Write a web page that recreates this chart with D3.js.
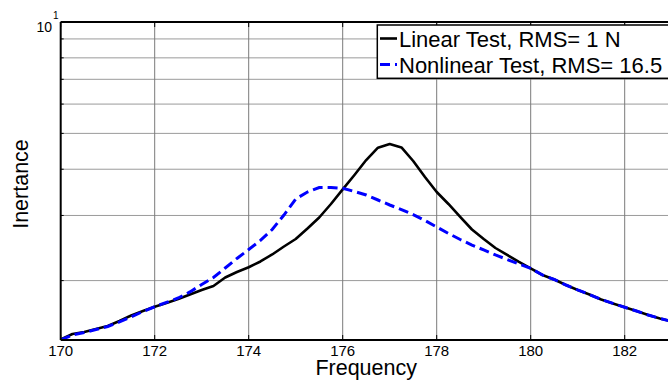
<!DOCTYPE html>
<html>
<head>
<meta charset="utf-8">
<script src="https://cdn.jsdelivr.net/npm/d3@7"></script>
<style>
  body { margin: 0; background: #fff; }
  svg { display: block; }
  text { font-family: "Liberation Sans", Arial, sans-serif; fill: #000; }
</style>
</head>
<body>
<svg id="chart" width="668" height="385"></svg>
<script>
// Frequency samples (Hz)
const frequency = [
  170, 170.25, 170.5, 170.75, 171, 171.25, 171.5, 171.75,
  172, 172.25, 172.5, 172.75, 173, 173.25, 173.5, 173.75,
  174, 174.25, 174.5, 174.75, 175, 175.25, 175.5, 175.75,
  176, 176.25, 176.5, 176.75, 177, 177.25, 177.5, 177.75,
  178, 178.25, 178.5, 178.75, 179, 179.25, 179.5, 179.75,
  180, 180.25, 180.5, 180.75, 181, 181.25, 181.5, 181.75,
  182, 182.25, 182.5, 182.75, 183
];

// Inertance magnitude, linear test (RMS = 1 N)
const linearTest = [
  1.387, 1.435, 1.453, 1.480, 1.508, 1.556, 1.610, 1.655,
  1.700, 1.740, 1.784, 1.834, 1.887, 1.934, 2.039, 2.110,
  2.173, 2.253, 2.353, 2.473, 2.591, 2.766, 2.962, 3.222,
  3.530, 3.860, 4.236, 4.575, 4.681, 4.581, 4.210, 3.812,
  3.471, 3.222, 2.972, 2.749, 2.591, 2.450, 2.346, 2.246,
  2.157, 2.071, 2.014, 1.946, 1.887, 1.834, 1.778, 1.735,
  1.694, 1.655, 1.615, 1.580, 1.551
];

// Inertance magnitude, nonlinear test (RMS = 16.5 N)
const nonlinearTest = [
  1.382, 1.426, 1.448, 1.475, 1.503, 1.546, 1.595, 1.650,
  1.700, 1.746, 1.795, 1.864, 1.952, 2.039, 2.163, 2.296,
  2.427, 2.568, 2.749, 3.008, 3.324, 3.471, 3.570, 3.570,
  3.552, 3.483, 3.408, 3.303, 3.202, 3.113, 3.017, 2.907,
  2.792, 2.682, 2.583, 2.496, 2.420, 2.346, 2.281, 2.218,
  2.157, 2.071, 2.014, 1.946, 1.887, 1.834, 1.778, 1.735,
  1.694, 1.655, 1.615, 1.580, 1.551
];

const xTicks = [170, 172, 174, 176, 178, 180, 182];
const yGrid = [2, 3, 4, 5, 6, 7, 8, 9, 10];
const legendLabels = ["Linear Test, RMS= 1 N", "Nonlinear Test, RMS= 16.5 N"];

const svg = d3.select("#chart");
const pLeft = 60.7, pRight = 671.7, pTop = 22, pBottom = 340;

const x = d3.scaleLinear().domain([170, 183]).range([pLeft, pRight]);
const y = d3.scaleLog().domain([1.382, 10]).range([pBottom, pTop]);

// grid lines
const grid = svg.append("g");
grid.selectAll("line.h").data(yGrid).enter().append("line")
  .attr("x1", pLeft).attr("x2", pRight)
  .attr("y1", d => y(d)).attr("y2", d => y(d))
  .attr("stroke", "#9a9a9a").attr("stroke-width", 1);
grid.selectAll("line.v").data(xTicks.slice(1)).enter().append("line")
  .attr("x1", d => x(d)).attr("x2", d => x(d))
  .attr("y1", pTop).attr("y2", pBottom)
  .attr("stroke", "#7a7a7a").attr("stroke-width", 1);

// clip for the curves
svg.append("clipPath").attr("id", "plotClip").append("rect")
  .attr("x", pLeft).attr("y", pTop).attr("width", pRight - pLeft).attr("height", pBottom - pTop);

const line = d3.line().x(d => x(d[0])).y(d => y(d[1]));
const plot = svg.append("g").attr("clip-path", "url(#plotClip)");

plot.append("path")
  .datum(frequency.map((f, i) => [f, linearTest[i]]))
  .attr("d", line).attr("fill", "none")
  .attr("stroke", "#000").attr("stroke-width", 2.6)
  .attr("stroke-linejoin", "round");

plot.append("path")
  .datum(frequency.map((f, i) => [f, nonlinearTest[i]]))
  .attr("d", line).attr("fill", "none")
  .attr("stroke", "#0000ff").attr("stroke-width", 3)
  .attr("stroke-dasharray", "10,5");

// axes frame
svg.append("line").attr("x1", pLeft).attr("x2", pRight).attr("y1", pBottom).attr("y2", pBottom)
  .attr("stroke", "#000").attr("stroke-width", 2);
svg.append("line").attr("x1", pLeft).attr("x2", pRight).attr("y1", pTop).attr("y2", pTop)
  .attr("stroke", "#000").attr("stroke-width", 2);
svg.append("line").attr("x1", pLeft).attr("x2", pLeft).attr("y1", pTop).attr("y2", pBottom)
  .attr("stroke", "#000").attr("stroke-width", 2);

// x ticks and labels
const xt = svg.append("g");
xTicks.forEach(t => {
  xt.append("line").attr("x1", x(t)).attr("x2", x(t)).attr("y1", pBottom).attr("y2", pBottom - 5)
    .attr("stroke", "#000").attr("stroke-width", 1);
  xt.append("line").attr("x1", x(t)).attr("x2", x(t)).attr("y1", pTop).attr("y2", pTop + 5)
    .attr("stroke", "#000").attr("stroke-width", 1);
  xt.append("text").attr("x", x(t)).attr("y", 355.5)
    .attr("text-anchor", "middle").attr("font-size", 15).text(t);
});

// y ticks (minor at gridlines) and decade label
yGrid.forEach(v => {
  svg.append("line").attr("x1", pLeft).attr("x2", pLeft + 3).attr("y1", y(v)).attr("y2", y(v))
    .attr("stroke", "#000").attr("stroke-width", 1);
});
svg.append("text").attr("x", 52).attr("y", y(10) + 10)
  .attr("text-anchor", "end").attr("font-size", 14).text("10");
svg.append("text").attr("x", 53).attr("y", y(10) - 3)
  .attr("font-size", 10).text("1");

// axis titles
svg.append("text").attr("x", (pLeft + pRight) / 2).attr("y", 374.5)
  .attr("text-anchor", "middle").attr("font-size", 21.5).text("Frequency");
svg.append("text")
  .attr("transform", `translate(28,${(pTop + pBottom) / 2 + 3}) rotate(-90)`)
  .attr("text-anchor", "middle").attr("font-size", 21.5).text("Inertance");

// legend
const lg = svg.append("g");
lg.append("rect").attr("x", 377.3).attr("y", 25).attr("width", 330).attr("height", 53.3)
  .attr("fill", "#fff").attr("stroke", "#000").attr("stroke-width", 1.5);
const legendStyles = [
  { color: "#000", dash: null, width: 2.6 },
  { color: "#0000ff", dash: "10,5", width: 3 }
];
legendLabels.forEach((lab, i) => {
  const cy = 38.5 + i * 26;
  lg.append("line").attr("x1", 380).attr("x2", 397).attr("y1", cy).attr("y2", cy)
    .attr("stroke", legendStyles[i].color).attr("stroke-width", legendStyles[i].width)
    .attr("stroke-dasharray", legendStyles[i].dash);
  lg.append("text").attr("x", 399).attr("y", cy + 8.3).attr("font-size", 22).text(lab);
});
</script>
</body>
</html>
